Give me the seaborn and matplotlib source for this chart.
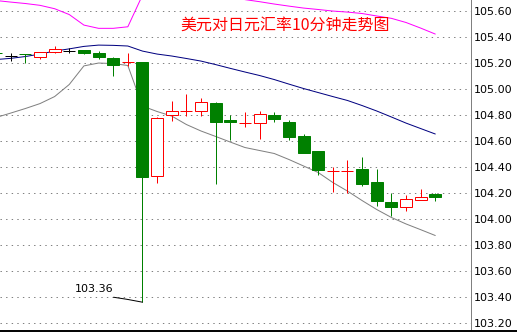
import numpy as np
import pandas as pd
import seaborn as sns
import matplotlib
matplotlib.use("Agg")
import matplotlib.pyplot as plt
from matplotlib.lines import Line2D

# ---- data ----
title = "美元对日元汇率10分钟走势图"
opens  = [105.276, 105.256, 105.270, 105.248, 105.282, 105.292, 105.300, 105.277, 105.238, 105.205,
          105.205, 104.333, 104.798, 104.828, 104.828, 104.892, 104.762, 104.736, 104.736, 104.798,
          104.744, 104.638, 104.523, 104.369, 104.369, 104.385, 104.285, 104.131, 104.090, 104.144, 104.190]
highs  = [105.280, 105.275, 105.272, 105.287, 105.328, 105.313, 105.300, 105.292, 105.248, 105.277,
          105.208, 104.787, 104.908, 104.962, 104.931, 104.902, 104.800, 104.823, 104.831, 104.823,
          104.759, 104.654, 104.523, 104.398, 104.454, 104.477, 104.385, 104.198, 104.182, 104.228, 104.198]
lows   = [105.270, 105.218, 105.202, 105.233, 105.275, 105.279, 105.267, 105.233, 105.098, 105.179,
          103.360, 104.275, 104.756, 104.795, 104.795, 104.272, 104.608, 104.705, 104.613, 104.744,
          104.608, 104.505, 104.341, 104.210, 104.200, 104.256, 104.102, 104.025, 104.059, 104.144, 104.141]
closes = [105.275, 105.256, 105.269, 105.287, 105.305, 105.292, 105.279, 105.248, 105.182, 105.206,
          104.325, 104.775, 104.828, 104.829, 104.898, 104.748, 104.745, 104.737, 104.805, 104.767,
          104.633, 104.510, 104.375, 104.370, 104.370, 104.272, 104.141, 104.095, 104.152, 104.167, 104.172]
upper_band = [105.681, 105.669, 105.658, 105.644, 105.618, 105.573, 105.492, 105.467, 105.467, 105.479,
              105.722, 105.800, 105.860, 105.880, 105.860, 105.800, 105.740, 105.688, 105.672, 105.654,
              105.638, 105.623, 105.612, 105.600, 105.592, 105.581, 105.562, 105.544, 105.512, 105.469, 105.423]
mid_band = [105.227, 105.236, 105.250, 105.269, 105.292, 105.309, 105.328, 105.338, 105.336, 105.331,
            105.292, 105.269, 105.254, 105.235, 105.215, 105.188, 105.159, 105.131, 105.104, 105.073,
            105.038, 105.004, 104.973, 104.942, 104.912, 104.873, 104.831, 104.785, 104.738, 104.696, 104.654]
lower_band = [104.781, 104.815, 104.850, 104.888, 104.942, 105.035, 105.178, 105.200, 105.196, 105.181,
              104.869, 104.827, 104.792, 104.727, 104.677, 104.635, 104.592, 104.550, 104.527, 104.504,
              104.458, 104.408, 104.358, 104.281, 104.215, 104.142, 104.073, 104.012, 103.962, 103.918, 103.873]
yticks = [103.20, 103.40, 103.60, 103.80, 104.00, 104.20, 104.40, 104.60, 104.80, 105.00, 105.20, 105.40, 105.60]
low_label = "103.36"

sns.set_style("white")
plt.rcParams['font.family'] = ['DejaVu Sans']

df = pd.DataFrame({"idx": np.arange(len(opens)), "open": opens, "high": highs,
                   "low": lows, "close": closes, "upper": upper_band,
                   "mid": mid_band, "lower": lower_band})

fig = plt.figure(figsize=(5.17, 3.32), dpi=100)
ax = fig.add_axes([0.0, 2 / 332, 471 / 517, 330 / 332])

px = 0.72  # one pixel in points

# grid
for v in yticks:
    ax.axhline(v, color="#808080", lw=px, linestyle=(0, (1.4, 4.2)), zorder=0)

# bands
sns.lineplot(data=df, x="idx", y="upper", ax=ax, color="#FF00FF", lw=px, zorder=1)
sns.lineplot(data=df, x="idx", y="mid", ax=ax, color="#000080", lw=px, zorder=1)
sns.lineplot(data=df, x="idx", y="lower", ax=ax, color="#808080", lw=px, zorder=1)

# candles
def ccol(o, c):
    if c > o:
        return "#FF0000"
    if c < o:
        return "#008000"
    return "#000000"

cols = [ccol(o, c) for o, c in zip(df["open"], df["close"])]
faces = ["white" if c > o else col for o, c, col in zip(df["open"], df["close"], cols)]
ax.vlines(df["idx"], df["low"], df["high"], colors=cols, lw=px, zorder=3)
bottoms = np.minimum(df["open"], df["close"])
heights = np.abs(df["close"] - df["open"])
ax.bar(df["idx"], heights, bottom=bottoms, width=0.82, color=faces,
       edgecolor=cols, linewidth=px, zorder=4)

# low annotation
imin = int(np.argmin(df["low"]))
lowv = df["low"][imin]
ax.text(imin - 4.6, lowv + 0.10, low_label, fontsize=8, color="black",
        ha="left", va="center", zorder=5)
ax.plot([imin - 1.97, imin - 1.05, imin], [lowv + 0.038, lowv + 0.022, lowv],
        color="black", lw=px, zorder=5)

# title
ax.text(0.605, 0.924, title, transform=ax.transAxes, ha="center", va="center",
        color="red", fontsize=11.5, family=["Noto Sans CJK SC", "DejaVu Sans"], zorder=6)

ax.set_xlim(0.269, 32.44)
ax.set_ylim(103.146, 105.685)
ax.set_yticks(yticks)
ax.set_yticklabels([f"{v:.2f}" for v in yticks])
ax.yaxis.tick_right()
ax.tick_params(axis="y", length=0, pad=2, labelsize=8, colors="black")
ax.set_xticks([])
ax.set_xlabel("")
ax.set_ylabel("")
for s in ["top", "left"]:
    ax.spines[s].set_visible(False)
ax.spines["right"].set_color("#808080")
ax.spines["right"].set_linewidth(px)
ax.spines["bottom"].set_visible(False)

fig.add_artist(Line2D([0, 1], [1.5 / 332, 1.5 / 332], transform=fig.transFigure,
                      color="black", lw=1.4))

fig.savefig("out.png", dpi=100, facecolor="white")
